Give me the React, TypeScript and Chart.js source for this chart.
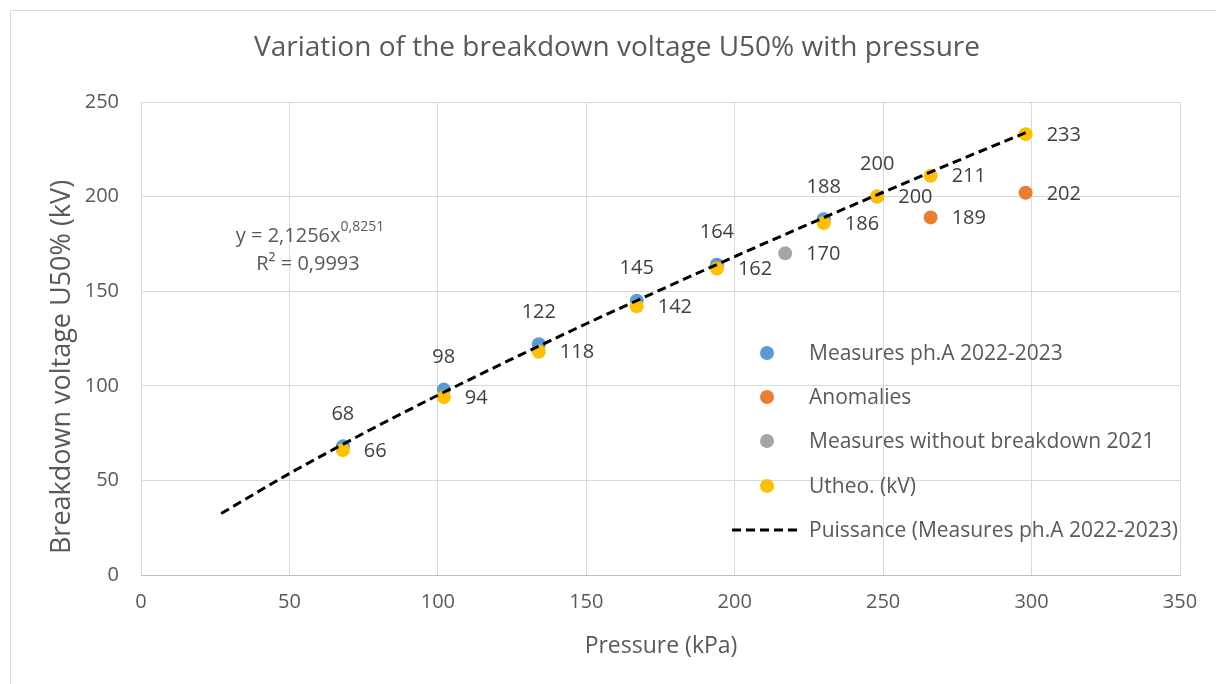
import { useEffect, useRef } from 'react';
import { Chart, registerables } from 'chart.js';
Chart.register(...registerables);

const titleText = 'Variation of the breakdown voltage U50% with pressure';
const xTitle = 'Pressure (kPa)';
const yTitle = 'Breakdown voltage U50% (kV)';

const measuresX = [68, 102, 134, 167, 194, 230, 248];
const measuresY = [68, 98, 122, 145, 164, 188, 200];
const anomaliesX = [266, 298];
const anomaliesY = [189, 202];
const noBreakX = [217];
const noBreakY = [170];
const utheoX = [68, 102, 134, 167, 194, 230, 248, 266, 298];
const utheoY = [66, 94, 118, 142, 162, 186, 200, 211, 233];
const trendX = [27, 50, 75, 100, 125, 150, 175, 200, 225, 250, 275, 298];
const trendY = [32.5, 53.6, 74.9, 95.0, 114.2, 132.8, 150.7, 168.3, 185.5, 202.3, 218.9, 233.8];

const seriesNames = [
  'Measures ph.A 2022-2023',
  'Anomalies',
  'Measures without breakdown 2021',
  'Utheo. (kV)',
  'Puissance (Measures ph.A 2022-2023)',
];
const seriesColors = ['#5B9BD5', '#ED7D31', '#A5A5A5', '#FFC000', '#000000'];

const FONT = '"Open Sans", Lato, sans-serif';
const TEXT = '#595959';

const pts = (xs: number[], ys: number[]) => xs.map((x, i) => ({ x, y: ys[i] }));

const overlay = {
  id: 'overlay',
  beforeDraw(chart: any) {
    const ctx = chart.ctx;
    ctx.save();
    ctx.fillStyle = '#ffffff';
    ctx.fillRect(0, 0, chart.width, chart.height);
    ctx.strokeStyle = '#d9d9d9';
    ctx.lineWidth = 1;
    ctx.strokeRect(10.5, 10.5, chart.width + 20, chart.height + 20);
    ctx.restore();
  },
  afterDatasetsDraw(chart: any) {
    const ctx = chart.ctx;
    ctx.save();
    // title
    ctx.fillStyle = TEXT;
    ctx.textAlign = 'center';
    ctx.textBaseline = 'middle';
    ctx.font = `28px ${FONT}`;
    ctx.fillText(titleText, 617, 48);
    // axis titles
    ctx.font = `23px ${FONT}`;
    ctx.fillText(xTitle, 661, 646);
    ctx.save();
    ctx.translate(62, 367);
    ctx.rotate(-Math.PI / 2);
    ctx.font = `27px ${FONT}`;
    ctx.fillText(yTitle, 0, 0);
    ctx.restore();

    // data labels
    ctx.font = `20px ${FONT}`;
    ctx.fillStyle = '#404040';
    chart.data.datasets.forEach((ds: any, di: number) => {
      if (di > 3) return;
      const meta = chart.getDatasetMeta(di);
      meta.data.forEach((el: any, i: number) => {
        const v = ds.data[i].y;
        if (di === 0) {
          ctx.textAlign = 'center';
          ctx.textBaseline = 'middle';
          ctx.fillText(String(v), el.x, el.y - 32);
        } else {
          ctx.textAlign = 'left';
          ctx.textBaseline = 'middle';
          ctx.fillText(String(v), el.x + 21, el.y + 1);
        }
      });
    });

    // equation
    ctx.fillStyle = TEXT;
    ctx.textBaseline = 'middle';
    ctx.textAlign = 'left';
    ctx.font = `20px ${FONT}`;
    const eq = 'y = 2,1256x';
    const w = ctx.measureText(eq).width;
    ctx.font = `14px ${FONT}`;
    const sup = '0,8251';
    const ws = ctx.measureText(sup).width;
    const sx = 310 - (w + ws) / 2;
    ctx.font = `20px ${FONT}`;
    ctx.fillText(eq, sx, 236);
    ctx.font = `14px ${FONT}`;
    ctx.fillText(sup, sx + w, 227);
    ctx.font = `20px ${FONT}`;
    ctx.textAlign = 'center';
    ctx.fillText('R² = 0,9993', 308, 264);

    // legend
    const rows = [353, 397, 441, 486, 530];
    ctx.textAlign = 'left';
    ctx.font = `21px ${FONT}`;
    seriesNames.forEach((name, i) => {
      const y = rows[i];
      if (i < 4) {
        ctx.fillStyle = seriesColors[i];
        ctx.beginPath();
        ctx.arc(767, y, 7, 0, Math.PI * 2);
        ctx.fill();
      } else {
        ctx.strokeStyle = '#000';
        ctx.lineWidth = 3;
        ctx.setLineDash([9, 5]);
        ctx.beginPath();
        ctx.moveTo(732, y);
        ctx.lineTo(802, y);
        ctx.stroke();
        ctx.setLineDash([]);
      }
      ctx.fillStyle = TEXT;
      ctx.fillText(name, 809, y + 1);
    });
    ctx.restore();
  },
};

export default function App() {
  const ref = useRef<HTMLCanvasElement>(null);
  useEffect(() => {
    if (!ref.current) return;
    const mk = (i: number, xs: number[], ys: number[], order: number) => ({
      label: seriesNames[i],
      data: pts(xs, ys),
      showLine: false,
      pointRadius: 7,
      pointHoverRadius: 7,
      pointBorderWidth: 0,
      pointBackgroundColor: seriesColors[i],
      borderColor: seriesColors[i],
      backgroundColor: seriesColors[i],
      order,
    });
    const chart = new Chart(ref.current, {
      type: 'scatter',
      data: {
        datasets: [
          mk(0, measuresX, measuresY, 4),
          mk(1, anomaliesX, anomaliesY, 3),
          mk(2, noBreakX, noBreakY, 2),
          mk(3, utheoX, utheoY, 1),
          {
            label: seriesNames[4],
            data: pts(trendX, trendY),
            showLine: true,
            pointRadius: 0,
            borderColor: '#000000',
            borderWidth: 3,
            borderDash: [9, 5],
            cubicInterpolationMode: 'monotone',
            fill: false,
            order: 0,
          } as any,
        ],
      },
      options: {
        animation: false,
        responsive: false,
        devicePixelRatio: 1,
        layout: { padding: { top: 102, right: 36, left: 0, bottom: 0 } },
        plugins: { legend: { display: false }, tooltip: { enabled: false }, title: { display: false } },
        scales: {
          x: {
            type: 'linear',
            min: 0,
            max: 350,
            afterFit: (s: any) => { s.height = 109; },
            ticks: { stepSize: 50, color: TEXT, font: { family: FONT, size: 20 }, padding: 15, maxRotation: 0 },
            grid: { color: '#d9d9d9', lineWidth: 1, drawTicks: false },
            border: { color: '#bfbfbf', width: 1 },
          },
          y: {
            type: 'linear',
            min: 0,
            max: 250,
            afterFit: (s: any) => { s.width = 141; },
            ticks: { stepSize: 50, color: TEXT, font: { family: FONT, size: 20 }, padding: 22 },
            grid: { color: '#d9d9d9', lineWidth: 1, drawTicks: false },
            border: { display: false },
          },
        },
      } as any,
      plugins: [overlay],
    });
    return () => chart.destroy();
  }, []);
  return (
    <div style={{ position: 'fixed', left: 0, top: 0, width: 1216, height: 684 }}>
      <canvas ref={ref} width={1216} height={684} style={{ width: 1216, height: 684 }} />
    </div>
  );
}
